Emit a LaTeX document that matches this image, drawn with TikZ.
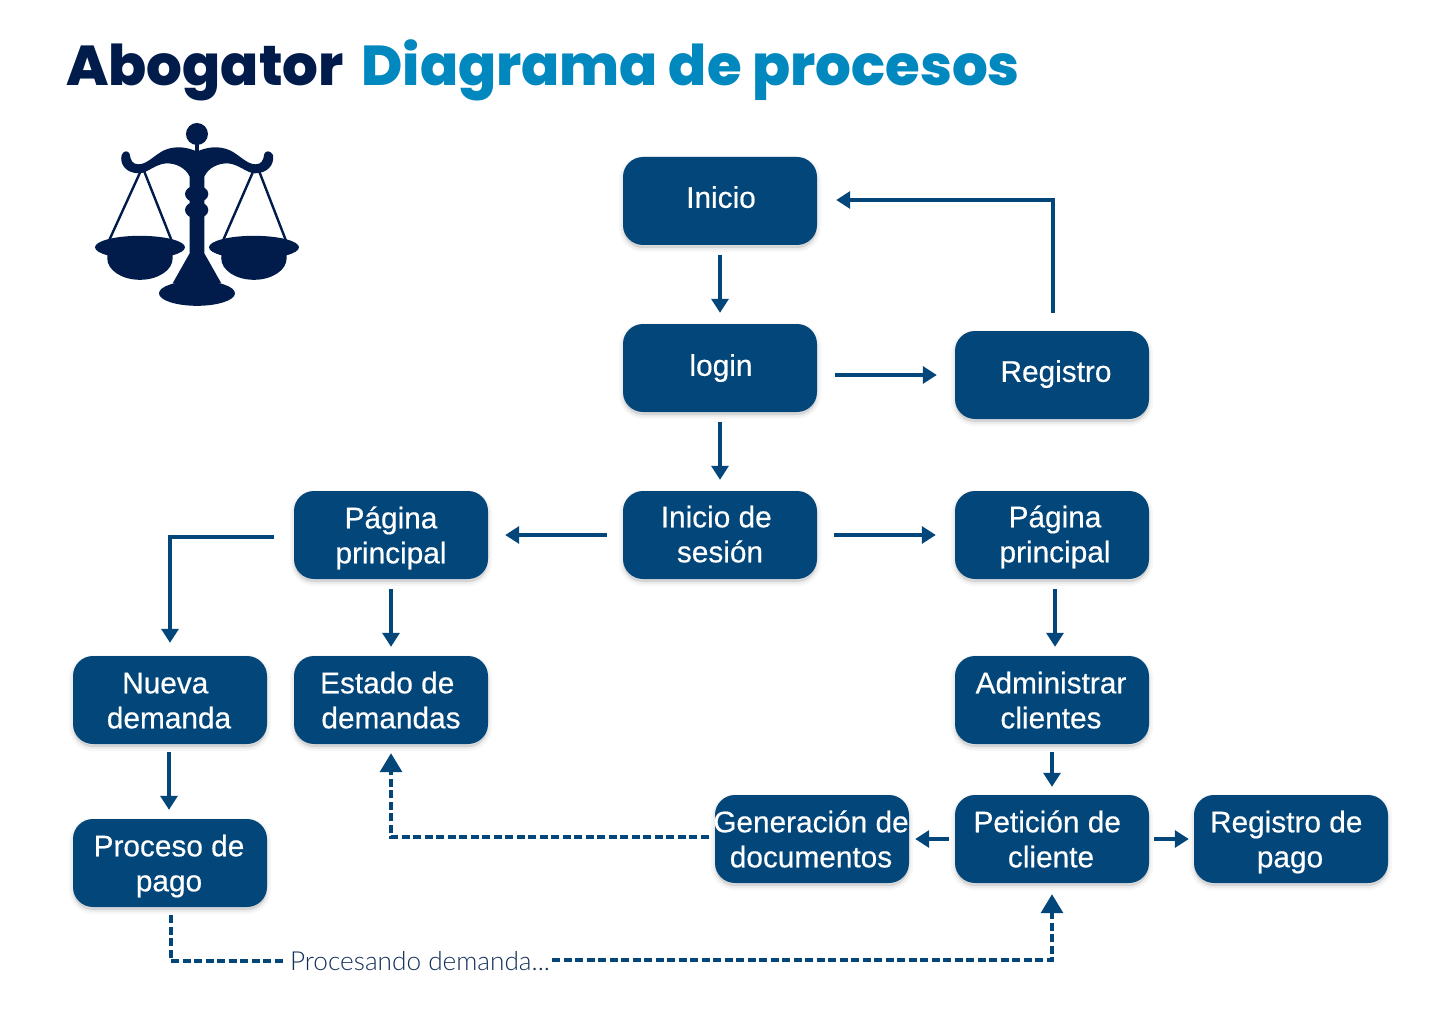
\documentclass[tikz,border=0pt]{standalone}
\usepackage{fontspec}
\usetikzlibrary{arrows.meta}
\setmainfont{Liberation Sans}
\newfontfamily\boxfont[FakeBold=0.45]{Liberation Sans}
\newfontfamily\titlefont{Poppins}[UprightFont=* ExtraBold]
\newfontfamily\lightfont{Lato Light}
\definecolor{boxblue}{HTML}{03467A}
\definecolor{navy}{HTML}{011C4B}
\definecolor{cyanblue}{HTML}{0088BF}
\definecolor{labelblue}{HTML}{14305A}
\newcommand{\bxtxt}[3]{\raisebox{#2pt}[0pt][0pt]{\makebox[0pt][c]{\hspace*{#1pt}\begin{tabular}{@{}c@{}}#3\end{tabular}}}}
\newcommand{\bsp}{\hspace*{7.5pt}}
\tikzset{
  flowbox/.style={rounded corners=20pt,fill=boxblue,minimum width=194pt,minimum height=88pt,inner sep=0pt,
    text=white,font=\boxfont\fontsize{29.8}{35}\selectfont,
    preaction={fill=black,fill opacity=.05,draw=black,draw opacity=.03,line width=8pt,transform canvas={yshift=-3pt}},
    preaction={fill=black,fill opacity=.05,draw=black,draw opacity=.04,line width=4pt,transform canvas={yshift=-3pt}}},
  flow/.style={draw=boxblue,line width=3.2pt,-{Triangle[width=17pt,length=14pt]}},
  dflow/.style={draw=boxblue,line width=3.3pt,dash pattern=on 8pt off 3.5pt,-{Triangle[width=22pt,length=19pt]}},
  dline/.style={draw=boxblue,line width=3.3pt,dash pattern=on 8pt off 3.5pt},
  icon/.style={fill=navy,draw=none}
}
\begin{document}
\begin{tikzpicture}[x=1pt,y=-1pt]
\useasboundingbox (0,0) rectangle (1440,1024);
\fill[white] (0,0) rectangle (1440,1024);
\node[anchor=base west,inner sep=0pt,text=navy,font=\titlefont\fontsize{56.2}{60}\selectfont] (title) at (66,86) {Abogator\hspace{18pt}\textcolor{cyanblue}{Diagrama de procesos}};
% scales icon (coordinates of a 3x crop)
\begin{scope}[shift={(60,110)},x=.3333pt,y=-.3333pt]
  \fill[icon] (411,72) circle (11pt);
  \fill[icon] (406,100) rectangle (416,130);
  \fill[icon] (411,125) .. controls (385,112) and (345,105) .. (310,122) .. controls (280,138) and (262,162) .. (236,163)
     .. controls (216,163) and (212,150) .. (209,132) .. controls (205,120) and (190,122) .. (185,135)
     .. controls (178,165) and (200,190) .. (238,190) .. controls (265,188) and (285,162) .. (320,160)
     .. controls (350,160) and (378,175) .. (389,200) -- (389,430) -- (338,520) -- (484,520) -- (433,430) -- (433,200)
     .. controls (444,175) and (472,160) .. (502,160) .. controls (537,162) and (557,188) .. (584,190)
     .. controls (622,190) and (644,165) .. (639,135) .. controls (632,122) and (617,120) .. (613,132)
     .. controls (610,150) and (606,163) .. (586,163) .. controls (560,162) and (542,138) .. (512,122)
     .. controls (477,105) and (437,112) .. (411,125) -- cycle;
  \fill[icon] (410,252) ellipse [x radius=11.7pt,y radius=8.5pt];
  \fill[icon] (410,300) ellipse [x radius=11.7pt,y radius=8.5pt];
  \fill[icon] (411,550) ellipse [x radius=38pt,y radius=12.5pt];
  \foreach \cx in {240,582}{
    \fill[icon] (\cx,412) ellipse [x radius=45pt,y radius=11.5pt];
    \fill[icon] (\cx-98,420) -- (\cx+98,420) -- (\cx+98,445) arc[start angle=0,end angle=-180,x radius=32.7pt,y radius=21.5pt] -- cycle;
  }
  \draw[navy,line width=2.4pt] (240,188) -- (147,392) (253,185) -- (335,392);
  \draw[navy,line width=2.4pt] (578,188) -- (489,392) (598,185) -- (678,392);
\end{scope}
% boxes
\node[flowbox] (inicio) at (720,201) {\bxtxt{2}{-6}{Inicio}};
\node[flowbox] (login) at (720,368) {\bxtxt{2}{-7}{login}};
\node[flowbox] (registro) at (1052,375) {\bxtxt{8}{-6}{Registro}};
\node[flowbox] (sesion) at (720,535) {\bxtxt{0}{-9}{Inicio de\bsp\\sesión}};
\node[flowbox] (pagl) at (391,535) {\bxtxt{0}{-10}{Página\\principal}};
\node[flowbox] (pagr) at (1052,535) {\bxtxt{6}{-9}{Página\\principal}};
\node[flowbox] (nueva) at (170,700) {\bxtxt{-2}{-10}{Nueva\bsp\\demanda}};
\node[flowbox] (estado) at (391,700) {\bxtxt{0}{-10}{Estado de\bsp\\demandas}};
\node[flowbox] (admin) at (1052,700) {\bxtxt{-2}{-10}{Administrar\\clientes}};
\node[flowbox] (gener) at (812,839) {\bxtxt{-2}{-10}{Generación de\\documentos}};
\node[flowbox] (peticion) at (1052,839) {\bxtxt{-2}{-10}{Petición de\bsp\\cliente}};
\node[flowbox] (regpago) at (1291,839) {\bxtxt{-2}{-10}{Registro de\bsp\\pago}};
\node[flowbox] (proceso) at (170,863) {\bxtxt{-2}{-10}{Proceso de\\pago}};
\node[inner sep=0pt,text=labelblue,font=\lightfont\fontsize{26.2}{30}\selectfont] (proc) at (420,961) {Procesando demanda...};
% connectors
\draw[flow,shorten <=10pt,shorten >=11pt] (inicio.south) -- (login.north);
\draw[flow,shorten <=10pt,shorten >=11pt] (login.south) -- (sesion.north);
\draw[flow,shorten <=18pt,shorten >=18pt] (login.east |- registro.west) -- (registro.west);
\draw[flow,shorten <=18pt,shorten >=19pt] ([xshift=1pt]registro.north) |- ([yshift=1pt]inicio.east);
\draw[flow,shorten <=16pt,shorten >=17pt] (sesion.west) -- (pagl.east);
\draw[flow,shorten <=17pt,shorten >=19pt] (sesion.east) -- (pagr.west);
\draw[flow,shorten <=20pt,shorten >=13pt] ([yshift=-2pt]pagl.west) -| (nueva.north);
\draw[flow,shorten <=10pt,shorten >=9pt] (pagl.south) -- (estado.north);
\draw[flow,shorten <=10pt,shorten >=9pt] ([xshift=3pt]pagr.south) -- ([xshift=3pt]admin.north);
\draw[flow,shorten <=8pt,shorten >=8pt] (admin.south) -- (peticion.north);
\draw[flow,shorten <=8pt,shorten >=9pt] ([xshift=-1pt]nueva.south) -- ([xshift=-1pt]proceso.north);
\draw[flow,shorten <=6pt,shorten >=6pt] (peticion.west) -- (gener.east);
\draw[flow,shorten <=5pt,shorten >=5pt] (peticion.east) -- (regpago.west);
\draw[dflow,shorten <=6pt,shorten >=9pt] ([yshift=2pt]gener.west) -| (estado.south);
\draw[dline,shorten <=8pt,shorten >=5pt] ([xshift=1pt]proceso.south) |- (proc.west);
\draw[dflow,shorten <=2pt,shorten >=11pt] ([yshift=1pt]proc.east) -| (peticion.south);
\end{tikzpicture}
\end{document}
